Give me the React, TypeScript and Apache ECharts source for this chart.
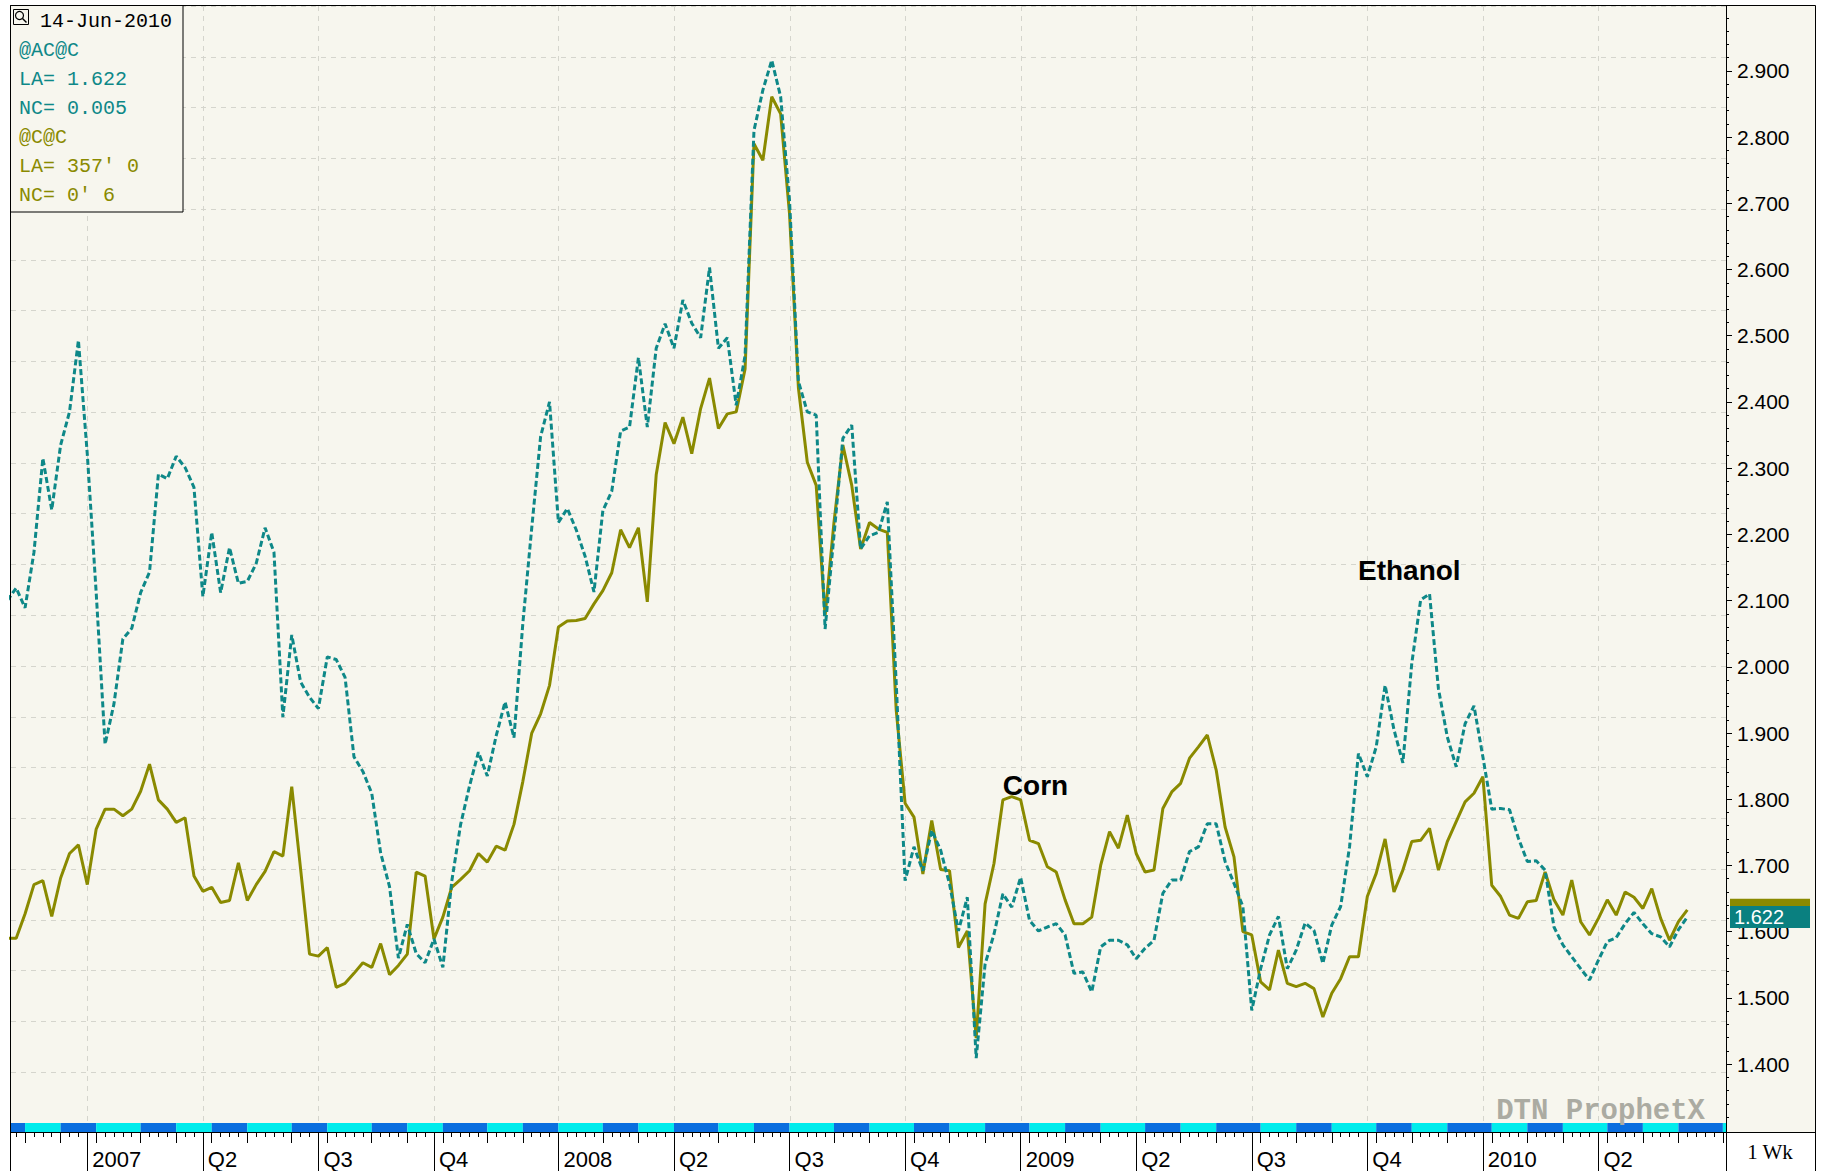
import React, { useEffect, useRef } from "react";
import * as echarts from "echarts";

// ---------------- data ----------------
// weekly bars, week index 0 = Tue 24-Oct-2006
const weekStartUTC = [2006, 9, 24];

const ethanol: number[] = [
  2.1, 2.119, 2.089, 2.173, 2.315, 2.237, 2.335, 2.385, 2.493, 2.321,
  2.112, 1.883, 1.944, 2.042, 2.058, 2.112, 2.143, 2.291, 2.284, 2.318,
  2.301, 2.271, 2.106, 2.203, 2.112, 2.18, 2.126, 2.129, 2.156, 2.21,
  2.173, 1.924, 2.048, 1.977, 1.954, 1.937, 2.015, 2.011, 1.984, 1.864,
  1.842, 1.809, 1.719, 1.668, 1.56, 1.611, 1.567, 1.553, 1.589, 1.546,
  1.676, 1.762, 1.82, 1.871, 1.835, 1.896, 1.947, 1.893, 2.066, 2.21,
  2.348, 2.4, 2.218, 2.239, 2.207, 2.167, 2.113, 2.236, 2.265, 2.356,
  2.362, 2.467, 2.362, 2.481, 2.518, 2.481, 2.554, 2.519, 2.497, 2.603,
  2.481, 2.497, 2.395, 2.47, 2.81, 2.871, 2.916, 2.861, 2.704, 2.431,
  2.385, 2.38, 2.057, 2.198, 2.345, 2.365, 2.178, 2.198, 2.203, 2.249,
  1.976, 1.677, 1.728, 1.692, 1.753, 1.723, 1.672, 1.601, 1.652, 1.409,
  1.551, 1.596, 1.657, 1.637, 1.682, 1.617, 1.601, 1.607, 1.612, 1.595,
  1.537, 1.539, 1.509, 1.577, 1.587, 1.587, 1.58, 1.559, 1.575, 1.587,
  1.658, 1.678, 1.678, 1.721, 1.728, 1.763, 1.763, 1.706, 1.673, 1.638,
  1.481, 1.544, 1.595, 1.623, 1.544, 1.572, 1.613, 1.602, 1.552, 1.61,
  1.638, 1.728, 1.869, 1.834, 1.879, 1.972, 1.905, 1.855, 2.005, 2.101,
  2.11, 1.967, 1.894, 1.849, 1.914, 1.941, 1.864, 1.785, 1.786, 1.784,
  1.741, 1.706, 1.707, 1.693, 1.607, 1.58, 1.562, 1.544, 1.527, 1.557,
  1.585, 1.591, 1.612, 1.629, 1.612, 1.597, 1.592, 1.577, 1.603, 1.622,
];

const corn: number[] = [
  1.59, 1.59, 1.627, 1.671, 1.677, 1.623, 1.681, 1.718, 1.731, 1.671,
  1.755, 1.785, 1.785, 1.775, 1.785, 1.812, 1.853, 1.799, 1.785, 1.765,
  1.772, 1.684, 1.661, 1.667, 1.644, 1.647, 1.704, 1.647, 1.671, 1.691,
  1.721, 1.714, 1.819, 1.694, 1.566, 1.563, 1.576, 1.516, 1.522, 1.537,
  1.553, 1.546, 1.582, 1.535, 1.549, 1.566, 1.69, 1.684, 1.589, 1.622,
  1.667, 1.679, 1.692, 1.718, 1.705, 1.729, 1.723, 1.762, 1.827, 1.9,
  1.929, 1.972, 2.06, 2.069, 2.07, 2.073, 2.095, 2.115, 2.142, 2.207,
  2.18, 2.21, 2.098, 2.29, 2.369, 2.337, 2.377, 2.322, 2.39, 2.436,
  2.36, 2.382, 2.385, 2.45, 2.79, 2.765, 2.861, 2.835, 2.684, 2.421,
  2.309, 2.274, 2.077, 2.218, 2.335, 2.274, 2.178, 2.218, 2.208, 2.203,
  1.935, 1.794, 1.773, 1.687, 1.768, 1.694, 1.692, 1.576, 1.601, 1.439,
  1.642, 1.703, 1.799, 1.804, 1.799, 1.738, 1.733, 1.698, 1.69, 1.648,
  1.612, 1.612, 1.622, 1.7, 1.751, 1.726, 1.776, 1.718, 1.69, 1.693,
  1.786, 1.811, 1.824, 1.862, 1.879, 1.897, 1.844, 1.758, 1.713, 1.6,
  1.595, 1.524, 1.512, 1.572, 1.522, 1.517, 1.522, 1.514, 1.471, 1.507,
  1.529, 1.562, 1.562, 1.653, 1.688, 1.74, 1.66, 1.693, 1.736, 1.738,
  1.756, 1.693, 1.736, 1.766, 1.796, 1.809, 1.834, 1.67, 1.653, 1.625,
  1.62, 1.645, 1.647, 1.69, 1.648, 1.625, 1.678, 1.615, 1.595, 1.62,
  1.648, 1.625, 1.66, 1.652, 1.635, 1.665, 1.62, 1.587, 1.615, 1.633,
];

// quarter ticks (week index of the bar containing the quarter's first day)
const quarterWeeks = [9, 22, 35, 48, 62, 75, 88, 101, 114, 127, 140, 153, 166, 179];
const quarterLabels = ["2007", "Q2", "Q3", "Q4", "2008", "Q2", "Q3", "Q4", "2009", "Q2", "Q3", "Q4", "2010", "Q2"];

const yTickValues = [1.4, 1.5, 1.6, 1.7, 1.8, 1.9, 2.0, 2.1, 2.2, 2.3, 2.4, 2.5, 2.6, 2.7, 2.8, 2.9];

const legendHeader = "14-Jun-2010";
const ethanolLegend = ["@AC@C", "LA= 1.622", "NC= 0.005"];
const cornLegend = ["@C@C", "LA= 357' 0", "NC= 0' 6"];
const ethanolLast = "1.622";

const seriesNotes = [
  { text: "Corn", w: 112.0, v: 1.82 },
  { text: "Ethanol", w: 151.95, v: 2.145 },
];

// ---------------- layout / style ----------------
const W = 1822;
const H = 1171;
const PLOT_L = 11;
const PLOT_R = 1726;
const PLOT_T = 6;
const PLOT_B = 1123;
const BAND_B = 1132;
const FRAME_R = 1815;
const TICK0_X = 87.3;
const TICK0_W = 9;
const WEEK_PX = 8.889;
const XMIN = TICK0_W - (TICK0_X - PLOT_L) / WEEK_PX;
const XMAX = TICK0_W + (PLOT_R - TICK0_X) / WEEK_PX;
const YMIN = 1.311;
const YMAX = 2.998;

const BG = "#F7F6EE";
const GRIDC = "#D5D5CD";
const TEAL = "#0E8888";
const OLIVE = "#8A8A00";
const CYAN = "#00ECEC";
const BLUE = "#0A6EDF";
const SANS = '"Liberation Sans", Arial, sans-serif';
const MONO = '"Liberation Mono", "DejaVu Sans Mono", monospace';

function weekDate(w: number) {
  return new Date(Date.UTC(weekStartUTC[0], weekStartUTC[1], weekStartUTC[2] + 7 * w));
}

function buildMonthBlocks() {
  const blocks: { start: number; end: number; m: number }[] = [];
  let cur: { start: number; end: number; m: number } | null = null;
  for (let w = 0; w <= 196; w++) {
    const m = weekDate(w).getUTCMonth();
    if (!cur || cur.m !== m) {
      if (cur) cur.end = w;
      cur = { start: w, end: w + 1, m };
      blocks.push(cur);
    }
  }
  if (cur) cur.end = 197;
  return blocks;
}

export default function App() {
  const ref = useRef<HTMLDivElement>(null);

  useEffect(() => {
    document.body.style.margin = "0";
    if (!ref.current) return;
    const chart = echarts.init(ref.current, undefined, { renderer: "svg" });

    const blocks = buildMonthBlocks();
    const monthStarts = blocks.map((b) => b.start).filter((w) => w > XMIN && w < XMAX);
    const weekTicks: number[] = [];
    for (let w = Math.ceil(XMIN); w <= Math.floor(XMAX); w++) weekTicks.push(w);
    const minorY: number[] = [];
    for (let k = 66; k <= 149; k++) {
      if (k % 5 !== 0) minorY.push(Math.round(k * 2) / 100);
    }

    const option: any = {
      animation: false,
      backgroundColor: BG,
      grid: [
        { left: PLOT_L, right: W - PLOT_R, top: PLOT_T, height: PLOT_B - PLOT_T, containLabel: false },
        { left: PLOT_L, right: W - PLOT_R, top: PLOT_B, height: BAND_B - PLOT_B, containLabel: false },
      ],
      xAxis: [
        { gridIndex: 0, type: "value", min: XMIN, max: XMAX, show: false },
        {
          gridIndex: 1, type: "value", min: XMIN, max: XMAX, position: "bottom",
          axisLine: { show: true, lineStyle: { color: "#000", width: 1 } },
          axisTick: { show: true, customValues: weekTicks, length: 5, lineStyle: { color: "#000", width: 1 } },
          axisLabel: { show: false }, splitLine: { show: false },
        },
        {
          gridIndex: 1, type: "value", min: XMIN, max: XMAX, position: "bottom",
          axisLine: { show: false },
          axisTick: { show: true, customValues: monthStarts, length: 11, lineStyle: { color: "#000", width: 1 } },
          axisLabel: { show: false }, splitLine: { show: false },
        },
        {
          gridIndex: 1, type: "value", min: XMIN, max: XMAX, position: "bottom",
          axisLine: { show: false },
          axisTick: { show: true, customValues: quarterWeeks, length: H - BAND_B, lineStyle: { color: "#000", width: 1 } },
          axisLabel: {
            show: true, customValues: quarterWeeks,
            formatter: (v: number) => quarterLabels[quarterWeeks.indexOf(Math.round(v))] ?? "",
            align: "left", margin: 16, padding: [0, 0, 0, 5],
            fontSize: 22, fontFamily: SANS, color: "#000",
          },
          splitLine: { show: false },
        },
      ],
      yAxis: [
        {
          gridIndex: 0, type: "value", position: "right", min: YMIN, max: YMAX,
          axisLine: { show: true, lineStyle: { color: "#000", width: 1 } },
          axisTick: { show: true, inside: false, customValues: yTickValues, length: 6, lineStyle: { color: "#000" } },
          axisLabel: {
            show: true, customValues: yTickValues, formatter: (v: number) => v.toFixed(3),
            margin: 11, fontSize: 21, fontFamily: SANS, color: "#000",
          },
          splitLine: { show: false },
        },
        {
          gridIndex: 0, type: "value", position: "right", min: YMIN, max: YMAX,
          axisLine: { show: false },
          axisTick: { show: true, inside: false, customValues: minorY, length: 3, lineStyle: { color: "#000" } },
          axisLabel: { show: false }, splitLine: { show: false },
        },
        {
          gridIndex: 0, type: "value", position: "left", min: 0, max: 22, interval: 1,
          axisLine: { show: false }, axisTick: { show: false }, axisLabel: { show: false },
          splitLine: { show: true, lineStyle: { color: GRIDC, width: 1, type: [5, 5] } },
        },
        { gridIndex: 1, type: "value", min: 0, max: 1, show: false },
      ],
      series: [
        {
          type: "custom", name: "vgrid", xAxisIndex: 0, yAxisIndex: 0, z: 1, silent: true,
          data: quarterWeeks.map((w) => [w, YMIN]),
          encode: { x: 0, y: 1 },
          renderItem: (params: any, api: any) => {
            const cs = params.coordSys;
            const x = Math.round(api.coord([api.value(0), api.value(1)])[0]) + 0.5;
            return {
              type: "line",
              shape: { x1: x, y1: cs.y, x2: x, y2: cs.y + cs.height },
              style: { stroke: GRIDC, lineWidth: 1, lineDash: [5, 5] },
            };
          },
        },
        {
          type: "line", name: "Corn", xAxisIndex: 0, yAxisIndex: 0, z: 3,
          data: corn.map((v, i) => [i, v]),
          symbol: "none", lineStyle: { color: OLIVE, width: 3 }, itemStyle: { color: OLIVE },
        },
        {
          type: "line", name: "Ethanol", xAxisIndex: 0, yAxisIndex: 0, z: 4,
          data: ethanol.map((v, i) => [i, v]),
          symbol: "none", lineStyle: { color: TEAL, width: 3, type: [6, 3] }, itemStyle: { color: TEAL },
        },
        {
          type: "custom", name: "months", xAxisIndex: 1, yAxisIndex: 3, silent: true,
          data: blocks.map((b) => [b.start, b.end, b.m % 2 === 0 ? 0 : 1]),
          encode: { x: [0, 1], y: 2 },
          renderItem: (params: any, api: any) => {
            const cs = params.coordSys;
            let x0 = api.coord([api.value(0), 0])[0];
            let x1 = api.coord([api.value(1), 0])[0];
            x0 = Math.max(x0, cs.x);
            x1 = Math.min(x1, cs.x + cs.width);
            if (x1 <= x0) return null;
            return {
              type: "rect",
              shape: { x: x0, y: cs.y, width: x1 - x0, height: cs.height },
              style: { fill: api.value(2) === 0 ? CYAN : BLUE },
            };
          },
        },
      ],
    };

    chart.setOption(option);

    const px = (w: number, v: number) => chart.convertToPixel({ seriesIndex: 1 }, [w, v]) as number[];
    const lastI = ethanol.length - 1;
    const yE = px(lastI, ethanol[lastI])[1];
    const yC = px(lastI, corn[lastI])[1];

    const txt = (text: string, x: number, y: number, fill: string, font: string, align = "left", vAlign = "middle", z = 61) => ({
      type: "text", x, y, z, silent: true,
      style: { text, fill, font, align, verticalAlign: vAlign, textAlign: align, textVerticalAlign: vAlign },
    });
    const line = (x1: number, y1: number, x2: number, y2: number, z = 100) => ({
      type: "line", z, silent: true, shape: { x1, y1, x2, y2 }, style: { stroke: "#000", lineWidth: 1 },
    });
    const rect = (x: number, y: number, w: number, h: number, fill: string, z: number, stroke?: string) => ({
      type: "rect", z, silent: true, shape: { x, y, width: w, height: h },
      style: stroke ? { fill, stroke, lineWidth: 1 } : { fill },
    });

    const legendRows = [
      { t: legendHeader, c: "#000", x: 40 },
      ...ethanolLegend.map((t) => ({ t, c: TEAL, x: 19 })),
      ...cornLegend.map((t) => ({ t, c: OLIVE, x: 19 })),
    ];

    const elements: any[] = [
      // white margins outside the chart frame
      rect(0, 0, W, PLOT_T, "#FFFFFF", -1),
      rect(0, 0, PLOT_L, H, "#FFFFFF", -1),
      rect(FRAME_R, 0, W - FRAME_R, H, "#FFFFFF", -1),
      rect(PLOT_L, BAND_B, W - PLOT_L, H - BAND_B, "#FFFFFF", -1),
      // frame
      line(PLOT_L - 0.5, PLOT_T - 0.5, FRAME_R + 0.5, PLOT_T - 0.5),
      line(PLOT_L - 0.5, PLOT_T - 0.5, PLOT_L - 0.5, H),
      line(PLOT_R + 0.5, PLOT_T - 0.5, PLOT_R + 0.5, H),
      line(FRAME_R + 0.5, PLOT_T - 0.5, FRAME_R + 0.5, H),
      line(PLOT_R, BAND_B + 0.5, FRAME_R + 0.5, BAND_B + 0.5),
      // legend box
      rect(PLOT_L - 0.5, PLOT_T - 0.5, 172.5, 206.5, BG, 60, "#000"),
      { type: "rect", z: 62, silent: true, shape: { x: 13.5, y: 9.5, width: 15, height: 15 }, style: { fill: "none", stroke: "#000", lineWidth: 1 } },
      { type: "circle", z: 62, silent: true, shape: { cx: 19.5, cy: 15.5, r: 4 }, style: { fill: "none", stroke: "#000", lineWidth: 1.2 } },
      { type: "line", z: 62, silent: true, shape: { x1: 22.5, y1: 18.5, x2: 26.5, y2: 22.5 }, style: { stroke: "#000", lineWidth: 1.5 } },
      ...legendRows.map((r, i) => txt(r.t, r.x, 21.7 + 28.9 * i, r.c, `20px ${MONO}`)),
      // series notes
      ...seriesNotes.map((n) => {
        const p = px(n.w, n.v);
        return txt(n.text, p[0], p[1], "#000", `bold 28px ${SANS}`, "left", "middle", 20);
      }),
      // last value boxes
      rect(1730, yC - 11, 80, 22, OLIVE, 70),
      rect(1730, yE - 11, 80, 22, "#0A8080", 71),
      txt(ethanolLast, 1734, yE, "#FFFFFF", `20px ${SANS}`, "left", "middle", 72),
      // watermark
      txt("DTN ProphetX", 1705, 1111, "#ABABA2", `bold 29px ${MONO}`, "right", "middle", 20),
      // period box
      txt("1 Wk", 1770, 1152, "#000", `21px "Liberation Serif", serif`, "center", "middle", 80),
    ];

    chart.setOption({ graphic: { elements } });

    return () => chart.dispose();
  }, []);

  return (
    <div
      ref={ref}
      style={{ position: "absolute", left: 0, top: 0, width: W, height: H, background: "#fff" }}
    />
  );
}
